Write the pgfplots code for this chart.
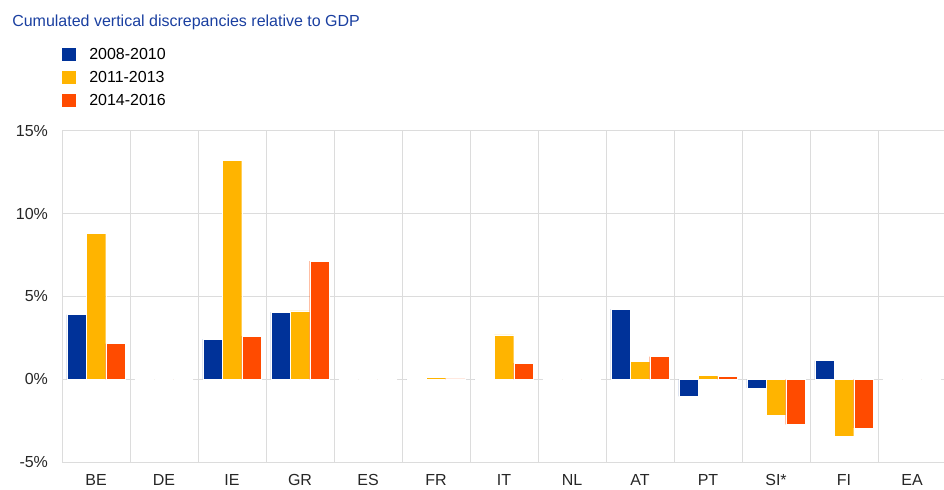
\documentclass[border=0pt]{standalone}
\usepackage{fontspec}
\setmainfont{Liberation Sans}
\usepackage{pgfplots}
\usepackage{pgfplotstable}
\pgfplotsset{compat=1.18}
\definecolor{ecbblue}{HTML}{003299}
\definecolor{ecbyellow}{HTML}{FFB400}
\definecolor{ecborange}{HTML}{FF4B00}
\definecolor{gridgray}{HTML}{DCDCDC}
\definecolor{titleblue}{HTML}{1A3FA0}

% cumulated discrepancies, % of GDP
\pgfplotstableread{
x a b c
0 3.91 8.82 2.16
1 0 0 0
2 2.42 13.21 2.60
3 4.05 4.13 7.13
4 0 0 0
5 -0.02 0.12 0.02
6 -0.02 2.68 0.98
7 0 0 0
8 4.23 1.07 1.37
9 -1.03 0.24 0.16
10 -0.52 -2.17 -2.72
11 1.13 -3.44 -2.94
12 0 0 0
}\data

\begin{document}
\begin{tikzpicture}
\path[use as bounding box] (0,0) rectangle (708pt,366.75pt);
\node[anchor=base west, inner sep=0pt, text=titleblue, font=\fontsize{12}{14}\selectfont]
  at (9pt,346.5pt) {Cumulated vertical discrepancies relative to GDP};
\begin{axis}[
    at={(46.5pt,20.25pt)}, anchor=south west,
    scale only axis, width=663pt, height=248.25pt,
    xmin=-0.5, xmax=12.5, ymin=-5, ymax=15,
    ybar=0pt, bar width=14.6pt,
    xtick={0,...,12},
    xticklabels={BE,DE,IE,GR,ES,FR,IT,NL,AT,PT,SI*,FI,EA},
    ytick={-5,0,5,10,15},
    yticklabel={\pgfmathprintnumber{\tick}\%},
    /pgf/number format/assume math mode=true,
    ymajorgrids, major grid style={gridgray, line width=0.75pt},
    minor xtick={-0.5,0.5,...,11.5}, xminorgrids,
    minor grid style={gridgray, line width=0.75pt},
    axis line style={draw=none},
    major tick length=0pt, minor tick length=0pt,
    tick label style={font=\fontsize{12}{14}\selectfont, text=black!85},
    yticklabel style={xshift=-7pt},
    xticklabel style={yshift=-6pt},
    legend style={at={(0,1.2525)}, anchor=north west, draw=none, fill=none,
        inner sep=0pt, row sep=7.1pt, font=\fontsize{12}{14}\selectfont,
        nodes={inner sep=0pt, anchor=west}},
    legend cell align=left,
    legend image code/.code={\fill[#1,draw=none] (0pt,-5.1pt) rectangle (10.5pt,5.1pt);},
    /tikz/every even column/.style={column sep=0pt},
]
\addplot[fill=ecbblue, draw=white, line width=0.3pt] table[x=x, y=a] {\data};
\addplot[fill=ecbyellow, draw=white, line width=0.3pt] table[x=x, y=b] {\data};
\addplot[fill=ecborange, draw=white, line width=0.3pt] table[x=x, y=c] {\data};
\legend{\hspace{9.75pt}2008-2010, \hspace{9.75pt}2011-2013, \hspace{9.75pt}2014-2016}
\end{axis}
\end{tikzpicture}
\end{document}
